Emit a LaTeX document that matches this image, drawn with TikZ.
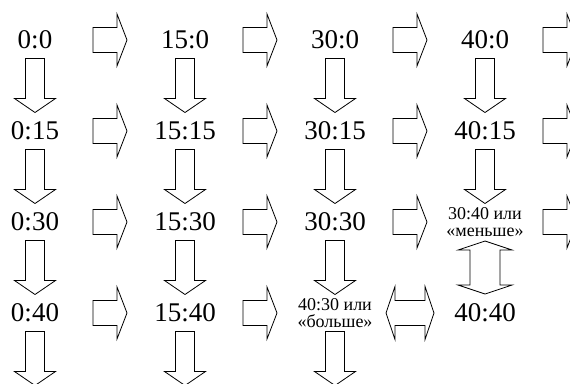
\documentclass[tikz,border=0pt]{standalone}
\usepackage{fontspec}
\newfontfamily\scorefont{Liberation Serif}
\usepackage{tikz}
\usetikzlibrary{
	positioning,
	calc
}

\begin{document}
\begin{tikzpicture}[
				x=1pt, y=-1pt, on grid,
				score/.style={
					inner sep=0pt, font=\scorefont\fontsize{27}{28}\selectfont
				},
				verdict/.style={
					inner sep=0pt, align=center,
					font=\scorefont\fontsize{18}{16.6}\selectfont
				},
				blk/.style={draw=black, line width=0.8pt, fill=white},
				rarrow/.pic={
					\draw[blk] (-17,-12.5) -- (7,-12.5) -- (7,-26) -- (17,0)
						-- (7,26) -- (7,12.5) -- (-17,12.5) -- cycle;
				},
				darrow/.pic={
					\draw[blk] (-9.5,-27) -- (9.5,-27) -- (9.5,13) -- (20.5,13)
						-- (0,27) -- (-20.5,13) -- (-9.5,13) -- cycle;
				},
				vdouble/.pic={
					\draw[blk] (0,-26.5) -- (27,-17.5) -- (15,-17.5) -- (15,17.5)
						-- (27,17.5) -- (0,26.5) -- (-27,17.5) -- (-15,17.5)
						-- (-15,-17.5) -- (-27,-17.5) -- cycle;
				},
				hdouble/.pic={
					\draw[blk] (-24,0) -- (-15,-26.5) -- (-15,-12.5) -- (15,-12.5)
						-- (15,-26.5) -- (24,0) -- (15,26.5) -- (15,12.5)
						-- (-15,12.5) -- (-15,26.5) -- cycle;
				}
				]
				
				\useasboundingbox (0,0) rectangle (570,383);
				\clip (0,0) rectangle (570,383);
				
				% first row
				\node[score] (s0x0) at (35,40) {0:0};
				\node[score, right=150pt of s0x0] (s15x0) {15:0};
				\node[score, right=150pt of s15x0] (s30x0) {30:0};
				\node[score, right=150pt of s30x0] (s40x0) {40:0};
				\coordinate[right=150pt of s40x0] (edge0);
				
				% second row
				\node[score, below=91pt of s0x0] (s0x15) {0:15};
				\node[score, below=91pt of s15x0] (s15x15) {15:15};
				\node[score, below=91pt of s30x0] (s30x15) {30:15};
				\node[score, below=91pt of s40x0] (s40x15) {40:15};
				\coordinate[right=150pt of s40x15] (edge15);
				
				% third row
				\node[score, below=91pt of s0x15] (s0x30) {0:30};
				\node[score, below=91pt of s15x15] (s15x30) {15:30};
				\node[score, below=91pt of s30x15] (s30x30) {30:30};
				\node[verdict, below=91pt of s40x15] (less) {30:40 или\\«меньше»};
				\coordinate[right=150pt of less] (edge30);
				
				% fourth row
				\node[score, below=91pt of s0x30] (s0x40) {0:40};
				\node[score, below=91pt of s15x30] (s15x40) {15:40};
				\node[verdict, below=91pt of s30x30] (more) {40:30 или\\«больше»};
				\node[score, below=91pt of less] (s40x40) {40:40};
				
				% lower edge
				\coordinate[below=91pt of s0x40] (bottom0);
				\coordinate[below=91pt of s15x40] (bottom15);
				\coordinate[below=91pt of more] (bottom30);
				
				% arrows to the right
				\pic at ($(s0x0)!.5!(s15x0)$) {rarrow};
				\pic at ($(s15x0)!.5!(s30x0)$) {rarrow};
				\pic at ($(s30x0)!.5!(s40x0)$) {rarrow};
				\pic at ($(s40x0)!.5!(edge0)$) {rarrow};
				\pic at ($(s0x15)!.5!(s15x15)$) {rarrow};
				\pic at ($(s15x15)!.5!(s30x15)$) {rarrow};
				\pic at ($(s30x15)!.5!(s40x15)$) {rarrow};
				\pic at ($(s40x15)!.5!(edge15)$) {rarrow};
				\pic at ($(s0x30)!.5!(s15x30)$) {rarrow};
				\pic at ($(s15x30)!.5!(s30x30)$) {rarrow};
				\pic at ($(s30x30)!.5!(less)$) {rarrow};
				\pic at ($(less)!.5!(edge30)$) {rarrow};
				\pic at ($(s0x40)!.5!(s15x40)$) {rarrow};
				\pic at ($(s15x40)!.5!(more)$) {rarrow};
				
				% arrows downwards
				\pic at ($(s0x0)!.5!(s0x15)$) {darrow};
				\pic at ($(s0x15)!.5!(s0x30)$) {darrow};
				\pic at ($(s0x30)!.5!(s0x40)$) {darrow};
				\pic at ($(s0x40)!.5!(bottom0)$) {darrow};
				\pic at ($(s15x0)!.5!(s15x15)$) {darrow};
				\pic at ($(s15x15)!.5!(s15x30)$) {darrow};
				\pic at ($(s15x30)!.5!(s15x40)$) {darrow};
				\pic at ($(s15x40)!.5!(bottom15)$) {darrow};
				\pic at ($(s30x0)!.5!(s30x15)$) {darrow};
				\pic at ($(s30x15)!.5!(s30x30)$) {darrow};
				\pic at ($(s30x30)!.5!(more)$) {darrow};
				\pic at ($(more)!.5!(bottom30)$) {darrow};
				\pic at ($(s40x0)!.5!(s40x15)$) {darrow};
				\pic at ($(s40x15)!.5!(less)$) {darrow};
				
				% both ways
				\pic at ($(less)!.5!(s40x40)$) {vdouble};
				\pic at ($(more)!.5!(s40x40)$) {hdouble};
			\end{tikzpicture}
\end{document}
